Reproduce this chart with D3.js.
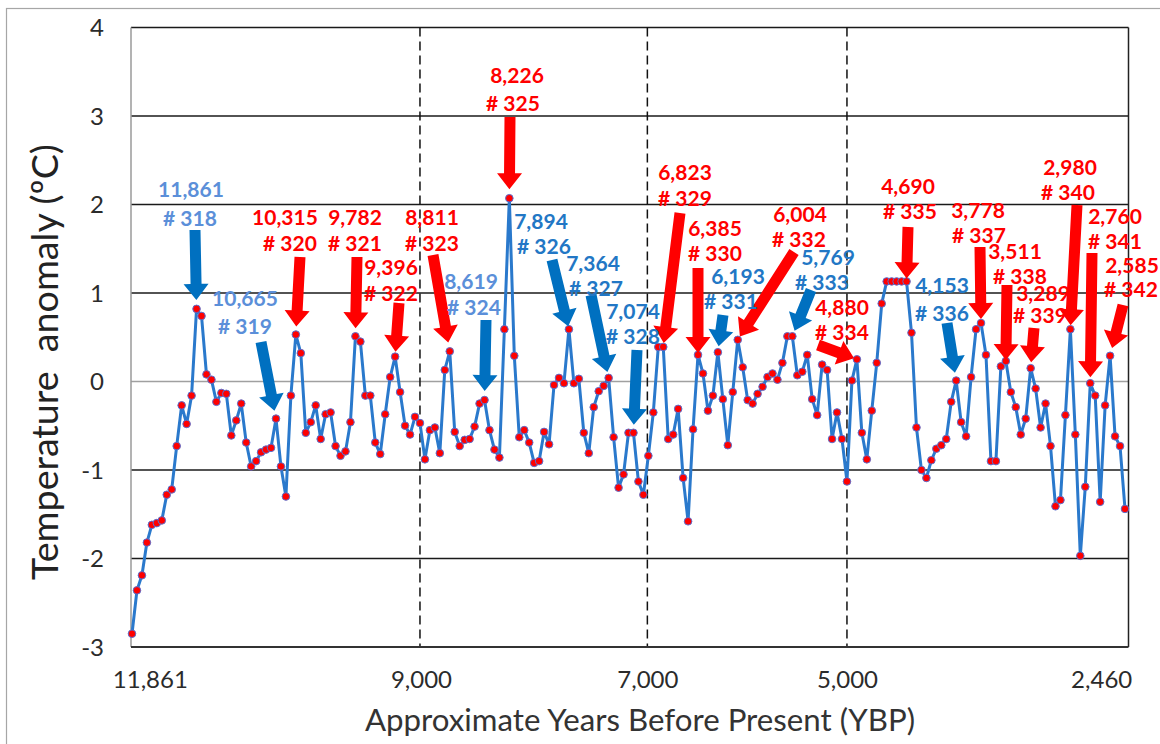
<!DOCTYPE html>
<html>
<head>
<meta charset="utf-8">
<script src="https://cdn.jsdelivr.net/npm/d3@7"></script>
<style>
  body { margin: 0; background: #fff; }
  svg { display: block; font-family: Lato, "Open Sans", sans-serif; }
</style>
</head>
<body>
<div id="chart"></div>
<script>
// temperature anomaly per sample (oldest first)
const anomaly = [
  -2.85, -2.36, -2.19, -1.82, -1.62, -1.60, -1.57, -1.28, -1.22, -0.73,
  -0.27, -0.48, -0.16, 0.82, 0.74, 0.08, 0.02, -0.23, -0.13, -0.14,
  -0.61, -0.44, -0.25, -0.69, -0.96, -0.90, -0.80, -0.77, -0.75, -0.42,
  -0.96, -1.30, -0.16, 0.53, 0.32, -0.58, -0.46, -0.27, -0.65, -0.37,
  -0.35, -0.73, -0.84, -0.79, -0.46, 0.51, 0.45, -0.16, -0.16, -0.69,
  -0.82, -0.37, 0.05, 0.28, -0.12, -0.50, -0.60, -0.40, -0.47, -0.88,
  -0.55, -0.52, -0.81, 0.13, 0.34, -0.57, -0.73, -0.66, -0.65, -0.51,
  -0.25, -0.21, -0.55, -0.77, -0.86, 0.59, 2.07, 0.29, -0.63, -0.55,
  -0.69, -0.92, -0.90, -0.57, -0.71, -0.04, 0.04, -0.02, 0.59, -0.02,
  0.03, -0.58, -0.81, -0.29, -0.11, -0.05, 0.04, -0.63, -1.20, -1.05,
  -0.58, -0.58, -1.13, -1.28, -0.84, -0.35, 0.39, 0.39, -0.65, -0.60,
  -0.31, -1.09, -1.58, -0.54, 0.30, 0.09, -0.33, -0.16, 0.33, -0.20,
  -0.72, -0.12, 0.47, 0.16, -0.21, -0.25, -0.14, -0.06, 0.05, 0.09,
  0.02, 0.21, 0.51, 0.51, 0.07, 0.11, 0.30, -0.20, -0.38, 0.19,
  0.13, -0.65, -0.35, -0.65, -1.13, 0.01, 0.25, -0.58, -0.88, -0.33,
  0.21, 0.88, 1.13, 1.13, 1.13, 1.13, 1.13, 0.55, -0.52, -1.00,
  -1.09, -0.89, -0.76, -0.72, -0.65, -0.23, 0.01, -0.46, -0.62, 0.05,
  0.59, 0.66, 0.30, -0.90, -0.90, 0.17, 0.23, -0.12, -0.29, -0.60,
  -0.42, 0.15, -0.08, -0.52, -0.25, -0.73, -1.41, -1.34, -0.38, 0.59,
  -0.60, -1.97, -1.19, -0.02, -0.16, -1.36, -0.27, 0.29, -0.62, -0.73,
  -1.44
];
const sampleNo = anomaly.map((d, i) => i + 1);

const yTicks = [-3, -2, -1, 0, 1, 2, 3, 4];
const xTickLabels = ["11,861", "9,000", "7,000", "5,000", "2,460"];
const xTickAt = [4.7, 59.3, 104.9, 145.1, 196.3];   // sample position of each label
const dividerAt = [59.0, 104.8, 145.0];            // dashed separators

// annotated events
const annoYear = ["11,861", "10,665", "10,315", "9,782", "9,396", "8,811", "8,619", "8,226",
  "7,894", "7,364", "7,074", "6,823", "6,385", "6,193", "6,004", "5,769", "4,880", "4,690",
  "4,153", "3,778", "3,511", "3,289", "2,980", "2,760", "2,585"];
const annoId = [318, 319, 320, 321, 322, 323, 324, 325, 326, 327, 328, 329, 330, 331, 332,
  333, 334, 335, 336, 337, 338, 339, 340, 341, 342];
const annoSample = [14, 30, 34, 46, 54, 65, 72, 77, 89, 97, 102, 108, 115, 119, 123, 134,
  147, 157, 167, 172, 177, 182, 190, 194, 198];
const annoKind = ["pale", "pale", "warm", "warm", "warm", "warm", "pale", "warm", "cool",
  "cool", "cool", "warm", "warm", "cool", "warm", "cool", "warm", "warm", "cool", "warm",
  "warm", "warm", "warm", "warm", "warm"];

const width = 1160;
const height = 744;
const plot = { left: 131, right: 1128.5, top: 27.4, bottom: 647 };

const svg = d3.select("#chart").append("svg")
  .attr("width", width)
  .attr("height", height);

const x = d3.scaleLinear().domain([1, anomaly.length]).range([132, 1125]);
const y = d3.scaleLinear().domain([-3, 4]).range([plot.bottom, plot.top]);

// outer chart frame (only its top/left edge is in view)
svg.append("rect")
  .attr("x", 6.5).attr("y", 8.5)
  .attr("width", width + 20).attr("height", height + 20)
  .attr("fill", "none").attr("stroke", "#a6a6a6").attr("stroke-width", 1.2);

// horizontal grid
svg.append("g").selectAll("line")
  .data(yTicks.filter(t => t > -3))
  .join("line")
  .attr("x1", plot.left).attr("x2", plot.right)
  .attr("y1", d => y(d)).attr("y2", d => y(d))
  .attr("stroke", d => (d === 0 ? "#a0a0a0" : "#1a1a1a"))
  .attr("stroke-width", 1.5);

// dashed era separators
svg.append("g").selectAll("line")
  .data(dividerAt)
  .join("line")
  .attr("x1", d => x(d)).attr("x2", d => x(d))
  .attr("y1", plot.top).attr("y2", plot.bottom)
  .attr("stroke", "#111").attr("stroke-width", 1.5)
  .attr("stroke-dasharray", "9,5");

// plot borders
svg.append("line")
  .attr("x1", plot.left).attr("x2", plot.left)
  .attr("y1", plot.top).attr("y2", plot.bottom)
  .attr("stroke", "#9a9a9a").attr("stroke-width", 1.5);
svg.append("line")
  .attr("x1", plot.right).attr("x2", plot.right)
  .attr("y1", plot.top).attr("y2", plot.bottom)
  .attr("stroke", "#222").attr("stroke-width", 1.5);
svg.append("line")
  .attr("x1", plot.left).attr("x2", plot.right)
  .attr("y1", plot.bottom).attr("y2", plot.bottom)
  .attr("stroke", "#333").attr("stroke-width", 1.8);

// y tick labels
svg.append("g").selectAll("text")
  .data(yTicks)
  .join("text")
  .attr("x", 104).attr("y", d => y(d))
  .attr("dy", "0.36em")
  .attr("text-anchor", "end")
  .attr("fill", "#2b2b2b")
  .style("font-size", "24px")
  .text(d => d);

// x tick labels
svg.append("g").selectAll("text")
  .data(xTickLabels)
  .join("text")
  .attr("x", (d, i) => x(xTickAt[i]))
  .attr("y", 688)
  .attr("text-anchor", "middle")
  .attr("fill", "#2b2b2b")
  .style("font-size", "24px")
  .text(d => d);

const fitText = (sel, target) => {
  const len = sel.node().getComputedTextLength();
  const size = parseFloat(sel.style("font-size"));
  sel.style("font-size", (size * target / len) + "px");
};

const xTitle = svg.append("text")
  .attr("x", 640).attr("y", 731)
  .attr("text-anchor", "middle")
  .attr("fill", "#333")
  .style("font-size", "28px")
  .text("Approximate Years Before Present (YBP)");
fitText(xTitle, 550);

const yTitle = svg.append("text")
  .attr("transform", "translate(44,362) rotate(-90)")
  .attr("text-anchor", "middle")
  .attr("dy", "0.36em")
  .attr("fill", "#222")
  .style("font-size", "30px")
  .style("white-space", "pre")
  .text("Temperature  anomaly (ºC)");
fitText(yTitle, 436);

// series
const line = d3.line()
  .x((d, i) => x(sampleNo[i]))
  .y(d => y(d));

svg.append("path")
  .datum(anomaly)
  .attr("d", line)
  .attr("fill", "none")
  .attr("stroke", "#2a79cc")
  .attr("stroke-width", 3)
  .attr("stroke-linejoin", "round");

svg.append("g").selectAll("circle")
  .data(anomaly)
  .join("circle")
  .attr("cx", (d, i) => x(sampleNo[i]))
  .attr("cy", d => y(d))
  .attr("r", 3.8)
  .attr("fill", "#ff0000")
  .attr("stroke", "#5a6fcf")
  .attr("stroke-width", 1);

// annotation layout: label line centres, arrow tail, gap from point to arrow tip
const annoLayout = [
  [191, 189, 190, 218, 195, 230, 9],
  [245, 298, 245, 326, 261, 342, 8],
  [285, 217, 290, 243, 300, 257, 8],
  [355, 217, 355, 243, 357, 257, 8],
  [391, 267, 391, 293, 399, 303, 5],
  [432, 217, 432, 243, 433, 255, 9],
  [471, 281, 474, 307, 486, 320, 9],
  [517, 75, 513, 103, 510, 117, 9],
  [541, 221, 544, 246, 552, 260, 3],
  [593, 263, 596, 288, 591, 295, 6],
  [633, 311, 633, 336, 637, 350, 8],
  [685, 172, 685, 198, 680, 213, 4],
  [715, 228, 715, 253, 698, 268, 2],
  [738, 276, 731, 301, 723, 315, 6],
  [800, 214, 799, 239, 794, 252, 4],
  [828, 257, 822, 282, 811, 290, 6],
  [842, 307, 842, 332, 818, 345, 3],
  [908, 186, 910, 211, 908, 227, 3],
  [942, 285, 942, 313, 947, 323, 8],
  [978, 210, 979, 235, 980, 247, 4],
  [1015, 251, 1020, 276, 1007, 285, 1],
  [1043, 293, 1040, 315, 1034, 328, 6],
  [1070, 167, 1068, 192, 1077, 205, 4],
  [1115, 216, 1115, 241, 1092, 253, 6],
  [1132, 265, 1131, 289, 1123, 305, 8]
];

const arrowColor = { warm: "#ff0000", cool: "#0070c0", pale: "#0070c0" };
const textColor = { warm: "#ff0000", cool: "#2277c5", pale: "#5b8fd9" };

const arrowPath = (x0, y0, x1, y1) => {
  const sw = 11, hw = 25, hl = 16;
  const len = Math.hypot(x1 - x0, y1 - y0);
  const ux = (x1 - x0) / len, uy = (y1 - y0) / len;
  const nx = -uy, ny = ux;
  const bx = x1 - ux * hl, by = y1 - uy * hl;
  const pts = [
    [x0 + nx * sw / 2, y0 + ny * sw / 2],
    [bx + nx * sw / 2, by + ny * sw / 2],
    [bx + nx * hw / 2, by + ny * hw / 2],
    [x1, y1],
    [bx - nx * hw / 2, by - ny * hw / 2],
    [bx - nx * sw / 2, by - ny * sw / 2],
    [x0 - nx * sw / 2, y0 - ny * sw / 2]
  ];
  return "M" + pts.map(p => p.join(",")).join("L") + "Z";
};

const annos = annoId.map((id, i) => ({
  id,
  year: annoYear[i],
  n: annoSample[i],
  kind: annoKind[i],
  lay: annoLayout[i]
}));

svg.append("g").selectAll("path")
  .data(annos)
  .join("path")
  .attr("d", d => {
    const [, , , , tx, ty, gap] = d.lay;
    const px = x(d.n), py = y(anomaly[d.n - 1]);
    const len = Math.hypot(px - tx, py - ty);
    const ex = px - (px - tx) / len * gap;
    const ey = py - (py - ty) / len * gap;
    return arrowPath(tx, ty, ex, ey);
  })
  .attr("fill", d => arrowColor[d.kind]);

const labels = svg.append("g")
  .style("font-size", "21px")
  .style("font-weight", "bold")
  .attr("text-anchor", "middle");

labels.selectAll("text.year")
  .data(annos)
  .join("text")
  .attr("class", "year")
  .attr("x", d => d.lay[0]).attr("y", d => d.lay[1])
  .attr("dy", "0.36em")
  .attr("fill", d => textColor[d.kind])
  .text(d => d.year);

labels.selectAll("text.id")
  .data(annos)
  .join("text")
  .attr("class", "id")
  .attr("x", d => d.lay[2]).attr("y", d => d.lay[3])
  .attr("dy", "0.36em")
  .attr("fill", d => textColor[d.kind])
  .text(d => "# " + d.id);
</script>
</body>
</html>
